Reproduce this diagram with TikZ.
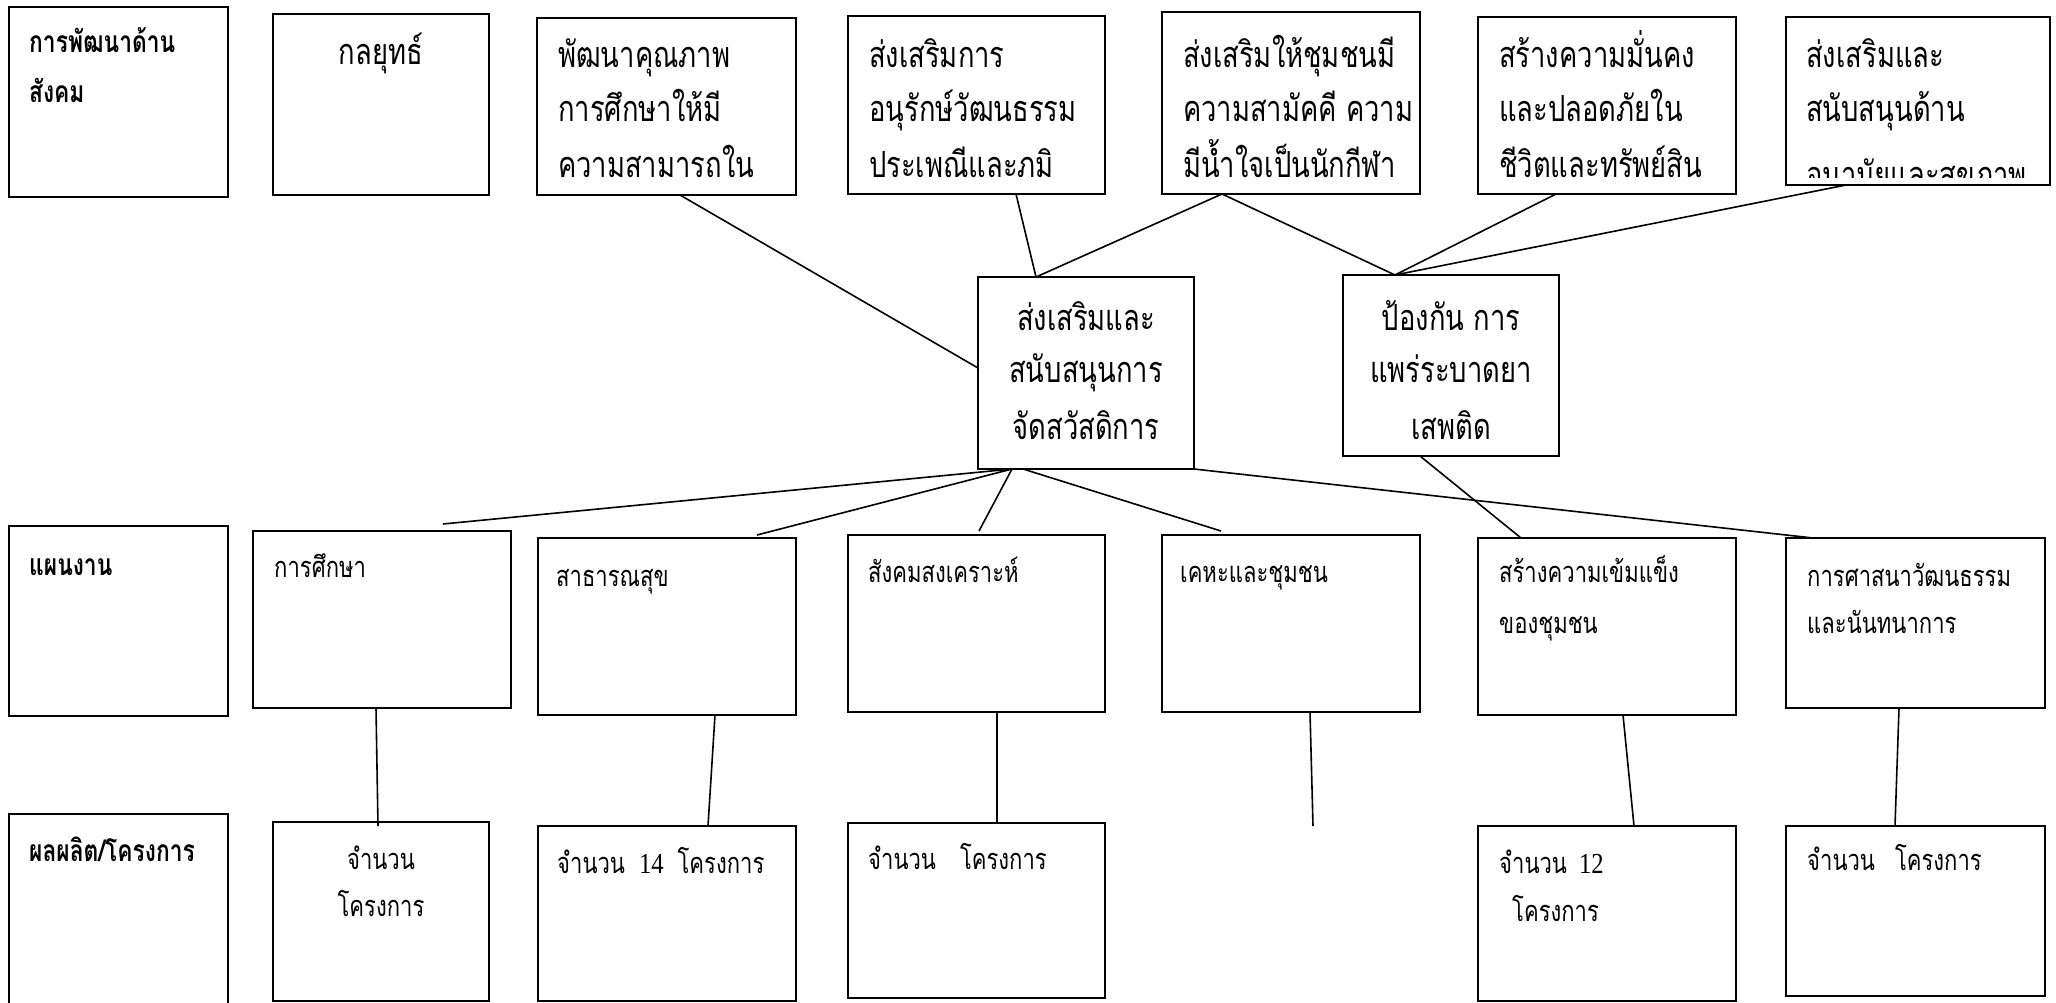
\documentclass[tikz,border=0pt]{standalone}
\usepackage{fontspec}
\setmainfont[Script=Thai, FakeStretch=0.76]{Loma}
\newfontfamily\digserif[FakeStretch=0.85]{Liberation Serif}
\begin{document}
\begin{tikzpicture}[x=1pt,y=-1pt,
  bx/.style={draw, line width=1.6pt, inner sep=0pt, outer sep=0pt, anchor=north west},
  big/.style={inner sep=0pt, anchor=base west, font=\fontsize{36}{40}\selectfont},
  bigc/.style={big, anchor=base},
  sml/.style={inner sep=0pt, anchor=base west, font=\fontsize{29}{34}\selectfont},
  smlc/.style={sml, anchor=base},
  lbl/.style={inner sep=0pt, anchor=base west, font=\fontsize{30}{34}\selectfont\bfseries},
  ln/.style={line width=1.6pt}]
\useasboundingbox (0,0) rectangle (2056,1003);
\newcommand\mkbox[5]{\node[bx, minimum width={(#4)-(#2)}, minimum height={(#5)-(#3)}] (#1) at (#2,#3) {};}
% row 1
\mkbox{L1}{9}{7}{228}{197}
\mkbox{S0}{273}{14}{489}{195}
\mkbox{S1}{537}{18}{796}{195}
\mkbox{S2}{848}{16}{1105}{194}
\mkbox{S3}{1162}{12}{1420}{194}
\mkbox{S4}{1478}{17}{1736}{194}
\mkbox{S5}{1786}{17}{2050}{185}
% middle
\mkbox{C1}{978}{277}{1194}{469}
\mkbox{C2}{1343}{275}{1559}{456}
% row 3
\mkbox{L2}{9}{526}{228}{716}
\mkbox{P1}{253}{531}{511}{708}
\mkbox{P2}{538}{538}{796}{715}
\mkbox{P3}{848}{535}{1105}{712}
\mkbox{P4}{1162}{535}{1420}{712}
\mkbox{P5}{1478}{538}{1736}{715}
\mkbox{P6}{1786}{538}{2045}{708}
% row 4
\mkbox{L3}{9}{814}{228}{1010}
\mkbox{Q1}{273}{822}{489}{1001}
\mkbox{Q2}{538}{826}{796}{1001}
\mkbox{Q3}{848}{823}{1105}{998}
\mkbox{Q5}{1478}{826}{1736}{1001}
\mkbox{Q6}{1786}{826}{2045}{996}
% texts row 1
\node[lbl] (l1a) at (29,53) {การพัฒนาด้าน};
\node[lbl] (l1b) at (29,103) {สังคม};
\node[bigc] (s0a) at (381,65) {กลยุทธ์};
\node[big] (s1a) at (558,68) {พัฒนาคุณภาพ};
\node[big] (s1b) at (558,122) {การศึกษาให้มี};
\node[big] (s1c) at (558,178) {ความสามารถใน};
\node[big] (s2a) at (869,68) {ส่งเสริมการ};
\node[big] (s2b) at (869,122) {อนุรักษ์วัฒนธรรม};
\node[big] (s2c) at (869,178) {ประเพณีและภมิ};
\node[big] (s3a) at (1183,68) {ส่งเสริมให้ชุมชนมี};
\node[big] (s3b) at (1183,122) {ความสามัคคี ความ};
\node[big] (s3c) at (1183,178) {มีน้ำใจเป็นนักกีฬา};
\node[big] (s4a) at (1499,68) {สร้างความมั่นคง};
\node[big] (s4b) at (1499,122) {และปลอดภัยใน};
\node[big] (s4c) at (1499,178) {ชีวิตและทรัพย์สิน};
\node[big] (s5a) at (1806,68) {ส่งเสริมและ};
\node[big] (s5b) at (1806,122) {สนับสนุนด้าน};
\begin{scope}
\clip (S5.north west) rectangle ([yshift=7pt]S5.south east);
\node[big] (s5c) at (1806,188) {อนามัยและสุขภาพ};
\end{scope}
% middle texts
\node[bigc] (c1a) at (1086,330) {ส่งเสริมและ};
\node[bigc] (c1b) at (1086,382) {สนับสนุนการ};
\node[bigc] (c1c) at (1086,439) {จัดสวัสดิการ};
\node[bigc] (c2a) at (1451,330) {ป้องกัน การ};
\node[bigc] (c2b) at (1451,382) {แพร่ระบาดยา};
\node[bigc] (c2c) at (1451,439) {เสพติด};
% row 3 texts
\node[lbl] (l2a) at (29,575) {แผนงาน};
\node[sml] (p1a) at (274,577) {การศึกษา};
\node[sml] (p2a) at (556,586) {สาธารณสุข};
\node[sml] (p3a) at (868,582) {สังคมสงเคราะห์};
\node[sml] (p4a) at (1180,582) {เคหะและชุมชน};
\node[sml] (p5a) at (1499,582) {สร้างความเข้มแข็ง};
\node[sml] (p5b) at (1499,633) {ของชุมชน};
\node[sml] (p6a) at (1807,586) {การศาสนาวัฒนธรรม};
\node[sml] (p6b) at (1807,633) {และนันทนาการ};
% row 4 texts
\node[lbl] (l3a) at (29,861) {ผลผลิต/โครงการ};
\node[smlc] (q1a) at (381,869) {จำนวน};
\node[smlc] (q1b) at (381,916) {โครงการ};
\node[sml] (q2a) at (557,873) {จำนวน\hspace{14pt}{\digserif 14}\hspace{14pt}โครงการ};
\node[sml] (q3a) at (868,869) {จำนวน\hspace{24pt}โครงการ};
\node[sml] (q5a) at (1499,873) {จำนวน\hspace{12pt}{\digserif 12}};
\node[sml] (q5b) at (1512,921) {โครงการ};
\node[sml] (q6a) at (1807,870) {จำนวน\hspace{20pt}โครงการ};
% connectors top
\draw[ln] ([xshift=143pt]S1.south west) -- ([yshift=5pt]C1.west);
\draw[ln] ([xshift=168pt]S2.south west) -- ([xshift=58pt]C1.north west);
\draw[ln] ([xshift=60pt]S3.south west) -- ([xshift=58pt]C1.north west);
\draw[ln] ([xshift=60pt]S3.south west) -- ([xshift=52pt]C2.north west);
\draw[ln] ([xshift=78pt]S4.south west) -- ([xshift=52pt]C2.north west);
\draw[ln] ([xshift=60pt]S5.south west) -- ([xshift=52pt]C2.north west);
% connectors middle to row 3
\draw[ln] ([xshift=34pt]C1.south west) -- ([xshift=190pt,yshift=7pt]P1.north west);
\draw[ln] ([xshift=34pt]C1.south west) -- ([xshift=219pt,yshift=3pt]P2.north west);
\draw[ln] ([xshift=34pt]C1.south west) -- ([xshift=131pt,yshift=4pt]P3.north west);
\draw[ln] ([xshift=45pt]C1.south west) -- ([xshift=59pt,yshift=4pt]P4.north west);
\draw[ln] (C1.south east) -- ([xshift=27pt]P6.north west);
\draw[ln] ([xshift=77pt]C2.south west) -- ([xshift=43pt]P5.north west);
% connectors row 3 to row 4
\coordinate (p4end) at (1313,826);
\draw[ln] ([xshift=123pt]P1.south west) -- ([xshift=105pt,yshift=-4pt]Q1.north west);
\draw[ln] ([xshift=177pt]P2.south west) -- ([xshift=170pt]Q2.north west);
\draw[ln] ([xshift=149pt]P3.south west) -- ([xshift=149pt]Q3.north west);
\draw[ln] ([xshift=148pt]P4.south west) -- (p4end);
\draw[ln] ([xshift=145pt]P5.south west) -- ([xshift=156pt]Q5.north west);
\draw[ln] ([xshift=113pt]P6.south west) -- ([xshift=109pt]Q6.north west);
\end{tikzpicture}
\end{document}
